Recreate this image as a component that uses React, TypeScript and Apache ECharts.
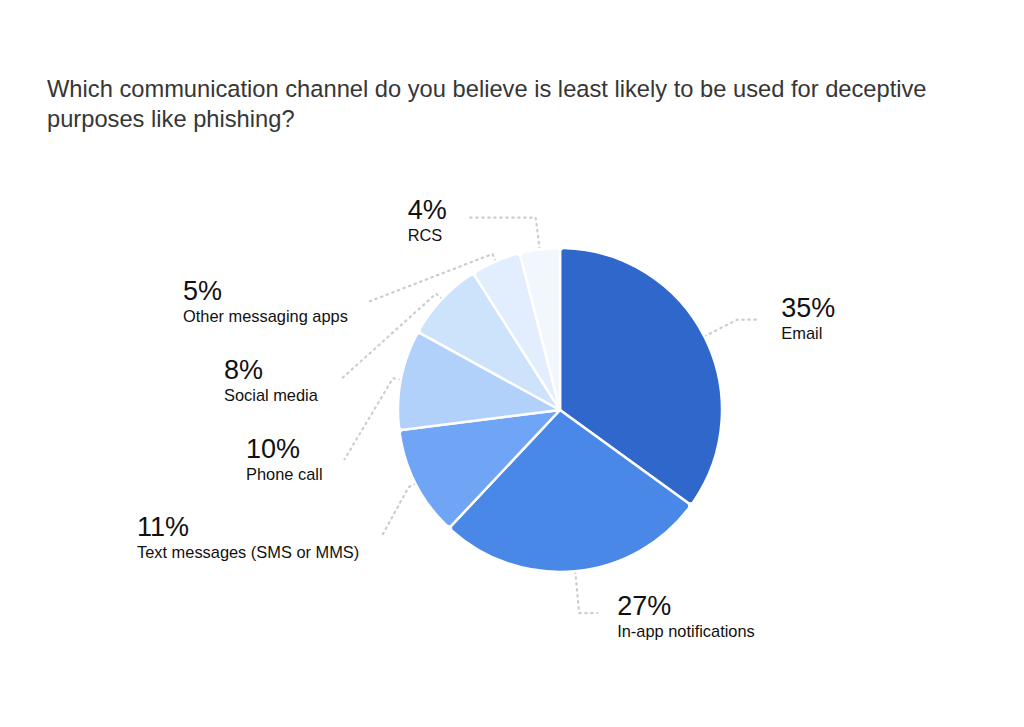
import React, { useEffect, useRef } from "react";
import * as echarts from "echarts";

const titleText =
  "Which communication channel do you believe is least likely to be used for deceptive\npurposes like phishing?";

const categories = [
  "Email",
  "In-app notifications",
  "Text messages (SMS or MMS)",
  "Phone call",
  "Social media",
  "Other messaging apps",
  "RCS",
];
const shares = [35, 27, 11, 10, 8, 5, 4];
const sliceColors = ["#2F67CA", "#4A88E8", "#70A5F6", "#B1D1FA", "#CDE2FB", "#E2EEFD", "#F2F7FE"];

// label layout configuration (not data)
const lineLen1 = [37, 42, 8, 8, 8, 8, 32];
const lineLen2 = [20, 18, 0, 0, 0, 0, -68];
const labelGap = [24, 20, 22, 22, 22, 22, 21];
const labelDy = [-6, -2, 0, 0, 0, 0, -2];
const labelTopLeft: Array<[number, number] | null> = [
  null,
  null,
  [137, 512],
  [246, 434],
  [224, 355],
  [183, 276],
  null,
];

const FONT = "'Liberation Sans', Arial, Helvetica, sans-serif";

export default function App() {
  const ref = useRef<HTMLDivElement>(null);

  useEffect(() => {
    document.body.style.margin = "0";
    if (!ref.current) return;
    const chart = echarts.init(ref.current, null, { renderer: "svg" });

    const data = categories.map((name, i) => ({
      name,
      value: shares[i],
      itemStyle: { color: sliceColors[i] },
      labelLine: { length: lineLen1[i], length2: 0 },
    }));

    chart.setOption({
      animation: false,
      backgroundColor: "#ffffff",
      title: {
        text: titleText,
        left: 42,
        top: 69,
        textStyle: {
          fontSize: 23.7,
          lineHeight: 30,
          fontWeight: "normal",
          color: "#363636",
          fontFamily: FONT,
        },
      },
      series: [
        {
          type: "pie",
          center: [560, 410],
          radius: [0, 162],
          startAngle: 90,
          clockwise: true,
          avoidLabelOverlap: false,
          itemStyle: { borderColor: "#ffffff", borderWidth: 2.5, borderRadius: 4 },
          label: {
            show: true,
            position: "outside",
            formatter: (p: any) => `{pct|${p.value}%}\n{name|${p.name}}`,
            rich: {
              pct: { fontSize: 27, lineHeight: 30, color: "#111111", fontFamily: FONT, align: "left" },
              name: { fontSize: 16.4, lineHeight: 20, color: "#111111", fontFamily: FONT, align: "left" },
            },
          },
          labelLine: {
            show: true,
            smooth: false,
            lineStyle: { color: "#C9CED3", width: 2.2, type: [1.5, 4.5], cap: "round" },
          },
          labelLayout: (params: any) => {
            const i = params.dataIndex;
            const pts = params.labelLinePoints;
            if (!pts) return {};
            const p0 = pts[0];
            const p1 = pts[1];
            const w = params.labelRect.width;
            const h = params.labelRect.height;
            const tl = labelTopLeft[i];
            if (tl) {
              const [x, y] = tl;
              const p2 = [x + w + labelGap[i], y + h / 2 + 2];
              return { x, y, align: "left", verticalAlign: "top", labelLinePoints: [p0, p1, p2] };
            }
            const dx = lineLen2[i];
            const p2 = [p1[0] + dx, p1[1]];
            const gap = labelGap[i];
            const top = p2[1] + 3 + labelDy[i] - h / 2;
            const x = dx >= 0 ? p2[0] + gap : p2[0] - gap - w;
            return { x, y: top, align: "left", verticalAlign: "top", labelLinePoints: [p0, p1, p2] };
          },
          data,
        },
      ],
    });

    return () => chart.dispose();
  }, []);

  return <div ref={ref} style={{ width: 1024, height: 727 }} />;
}
